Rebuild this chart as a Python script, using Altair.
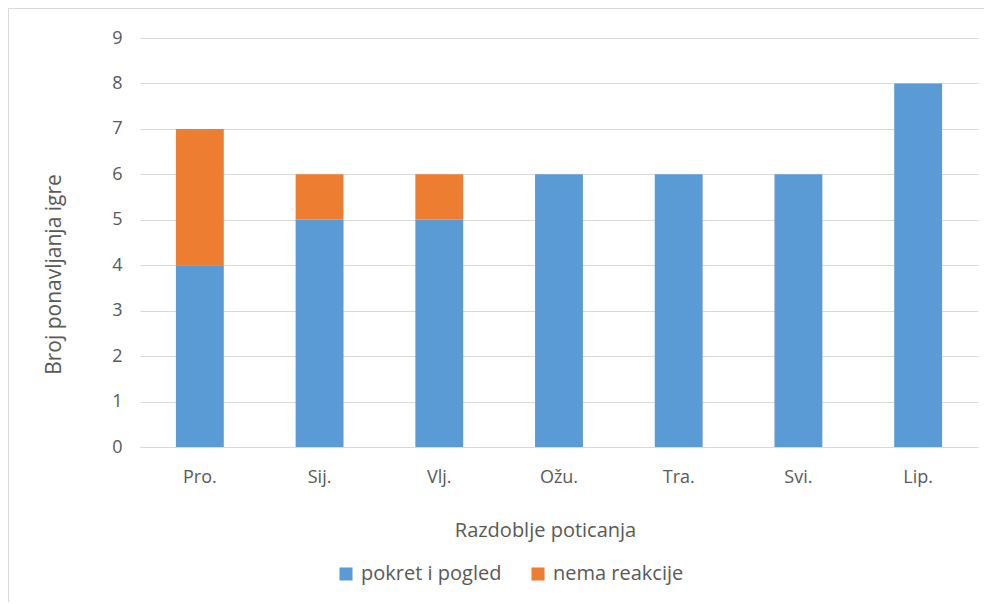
import altair as alt
import pandas as pd

months = ["Pro.", "Sij.", "Vlj.", "Ožu.", "Tra.", "Svi.", "Lip."]
pokret = [4, 5, 5, 6, 6, 6, 8]
nema = [3, 1, 1, 0, 0, 0, 0]
series = ["pokret i pogled", "nema reakcije"]
colors = ["#5B9BD5", "#ED7D31"]

rows = []
for m, a, b in zip(months, pokret, nema):
    rows.append({"mjesec": m, "serija": series[0], "vrijednost": a, "red": 0})
    rows.append({"mjesec": m, "serija": series[1], "vrijednost": b, "red": 1})
df = pd.DataFrame(rows)

FONT = "Open Sans"
TXT = "#595959"

bars = alt.Chart(df).mark_bar().encode(
    x=alt.X("mjesec:N", sort=months, scale=alt.Scale(paddingInner=0.6, paddingOuter=0.3),
            axis=alt.Axis(title="Razdoblje poticanja", labelAngle=0, ticks=False,
                          domainColor="#D9D9D9", labelPadding=21, titlePadding=34,
                          labelFontSize=18, titleFontSize=20, titleX=405)),
    y=alt.Y("vrijednost:Q", stack="zero", scale=alt.Scale(domain=[0, 9]),
            axis=alt.Axis(title="Broj ponavljanja igre", values=list(range(10)), ticks=False,
                          domain=False, gridColor="#D9D9D9", labelPadding=18,
                          labelFontSize=18, titleFontSize=21, titleX=-76, titleY=236)),
    color=alt.Color("serija:N", sort=series, scale=alt.Scale(domain=series, range=colors),
                    legend=alt.Legend(title=None, orient="none", direction="horizontal",
                                      legendX=196, legendY=526,
                                      symbolType="square", symbolSize=170,
                                      symbolStrokeWidth=0, labelFontSize=20,
                                      columnPadding=26, labelOffset=5)),
    order=alt.Order("red:Q"),
)

border = alt.Chart(pd.DataFrame({"a": [0]})).mark_rect(
    fill="white", fillOpacity=0, stroke="#D9D9D9", strokeWidth=1
).encode(
    x=alt.value(-131.5), x2=alt.value(845), y=alt.value(-29.5), y2=alt.value(620)
)

chart = alt.layer(border, bars).properties(
    width=838, height=409,
    padding={"left": 132, "top": 30, "right": 6, "bottom": 155},
    autosize=alt.AutoSizeParams(type="none"),
).configure(font=FONT).configure_axis(
    labelColor=TXT, titleColor=TXT, labelFont=FONT, titleFont=FONT, titleFontWeight="normal"
).configure_legend(labelColor=TXT, labelFont=FONT).configure_view(stroke=None)

chart.save("out.html", embed_options={"renderer": "svg", "actions": False})
